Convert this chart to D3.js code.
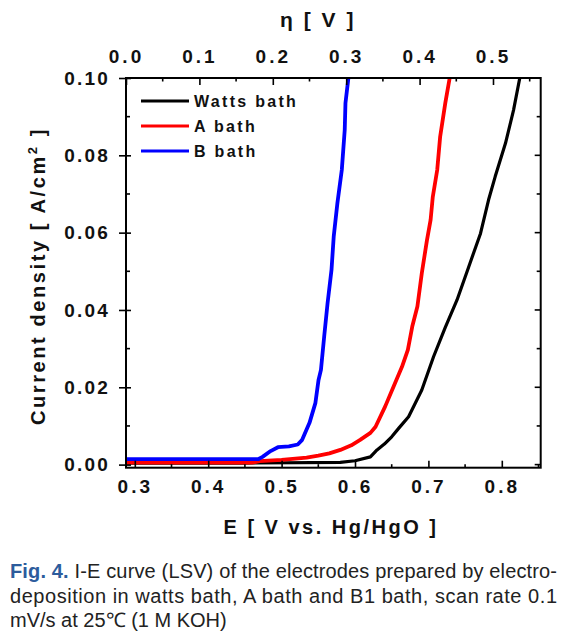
<!DOCTYPE html>
<html><head><meta charset="utf-8">
<script src="https://cdn.jsdelivr.net/npm/d3@7"></script>
<style>
body{margin:0;background:#fff;}
svg{display:block;}
</style></head>
<body>
<svg id="chart" width="568" height="641"></svg>
<script>
// ---- data ----
const seriesNames = ["Watts bath", "A bath", "B bath"];
const seriesColors = ["#000000", "#ff0000", "#0000ff"];

const wattsE = [0.288, 0.45, 0.58, 0.60, 0.621, 0.630, 0.640, 0.650, 0.660, 0.673, 0.691, 0.707, 0.723, 0.739, 0.755, 0.771, 0.782, 0.791, 0.805, 0.816, 0.8245, 0.83];
const wattsJ = [0.0004, 0.0004, 0.0006, 0.0010, 0.0020, 0.0038, 0.0053, 0.0072, 0.0095, 0.0124, 0.0193, 0.0279, 0.0355, 0.0426, 0.0512, 0.0598, 0.0685, 0.0745, 0.0831, 0.0917, 0.1000, 0.1050];

const aE = [0.288, 0.46, 0.47, 0.50, 0.534, 0.55, 0.565, 0.580, 0.595, 0.607, 0.621, 0.628, 0.641, 0.6526, 0.664, 0.672, 0.678, 0.685, 0.691, 0.698, 0.703, 0.706, 0.712, 0.716, 0.723, 0.729, 0.732];
const aJ = [0.0005, 0.0005, 0.0009, 0.0012, 0.0018, 0.0023, 0.0029, 0.0038, 0.0050, 0.0064, 0.0082, 0.0098, 0.0150, 0.0202, 0.0253, 0.0297, 0.0357, 0.0409, 0.0495, 0.0580, 0.0633, 0.0693, 0.0762, 0.0848, 0.0935, 0.1000, 0.1040];

const bE = [0.288, 0.468, 0.474, 0.485, 0.495, 0.510, 0.522, 0.528, 0.538, 0.546, 0.5503, 0.5536, 0.558, 0.5626, 0.568, 0.571, 0.576, 0.582, 0.586, 0.587, 0.591, 0.593];
const bJ = [0.0014, 0.0014, 0.0020, 0.0035, 0.0045, 0.0047, 0.0052, 0.0064, 0.0108, 0.0159, 0.0219, 0.0245, 0.0331, 0.0417, 0.0504, 0.0590, 0.0676, 0.0762, 0.0866, 0.0935, 0.1000, 0.1040];

const xMajor = [0.3, 0.4, 0.5, 0.6, 0.7, 0.8];
const xMinor = [0.35, 0.45, 0.55, 0.65, 0.75, 0.85];
const etaMajor = [0.0, 0.1, 0.2, 0.3, 0.4, 0.5];
const etaMinor = [0.05, 0.15, 0.25, 0.35, 0.45, 0.55];
const yMajor = [0.00, 0.02, 0.04, 0.06, 0.08, 0.10];
const yMinor = [0.01, 0.03, 0.05, 0.07, 0.09];

const captionLines = [
  ["Fig. 4.", " I-E curve (LSV) of the electrodes prepared by electro-"],
  ["", "deposition in watts bath, A bath and B1 bath, scan rate 0.1"],
  ["", "mV/s at 25\u2103 (1 M KOH)"]
];

// ---- layout ----
const L = 126, R = 540.7, T = 78, B = 467.7;
const FONT = "Arial, 'Liberation Sans', sans-serif";
const svg = d3.select("#chart");

const x = d3.scaleLinear().domain([0.288, 0.853]).range([L, R]);
const xTop = d3.scaleLinear().domain([0, 0.565]).range([L, R]);
const y = d3.scaleLinear().domain([-0.0008, 0.1]).range([B, T]);

svg.append("defs").append("clipPath").attr("id", "clip")
  .append("rect").attr("x", L).attr("y", T).attr("width", R - L).attr("height", B - T);

// lines
const line = d3.line().x(d => x(d[0])).y(d => y(d[1]));
const series = [
  d3.zip(wattsE, wattsJ),
  d3.zip(aE, aJ),
  d3.zip(bE, bJ)
];
const widths = [3.2, 3.8, 3.8];
const gLines = svg.append("g").attr("clip-path", "url(#clip)");
series.forEach((s, i) => {
  gLines.append("path").datum(s).attr("d", line)
    .attr("fill", "none").attr("stroke", seriesColors[i])
    .attr("stroke-width", widths[i]).attr("stroke-linejoin", "round");
});

// axes
function styleAxis(g, fs, ls) {
  g.select(".domain").remove();
  g.selectAll("line").attr("stroke", "#000").attr("stroke-width", 1.6);
  g.selectAll("text").attr("font-family", FONT).attr("font-size", fs)
    .attr("font-weight", "bold").attr("fill", "#111").style("letter-spacing", ls + "px");
}
const gB = svg.append("g").attr("transform", `translate(0,${B})`)
  .call(d3.axisBottom(x).tickValues(xMajor).tickFormat(d3.format(".1f")).tickSizeInner(-7).tickSizeOuter(0).tickPadding(12));
styleAxis(gB, 19, 3);
const gT = svg.append("g").attr("transform", `translate(0,${T})`)
  .call(d3.axisTop(xTop).tickValues(etaMajor).tickFormat(d3.format(".1f")).tickSizeInner(-7).tickSizeOuter(0).tickPadding(15));
styleAxis(gT, 19, 3);
const gL = svg.append("g").attr("transform", `translate(${L},0)`)
  .call(d3.axisLeft(y).tickValues(yMajor).tickFormat(d3.format(".2f")).tickSizeInner(7).tickSizeOuter(0).tickPadding(11));
styleAxis(gL, 19, 2.2);
gL.selectAll(".tick text").attr("dx", "2px");
// left major ticks also cross inward
gL.selectAll(".tick").append("line").attr("x1", 0).attr("x2", 5).attr("stroke", "#000").attr("stroke-width", 1.6);

// minor / extra ticks
const tk = svg.append("g").attr("stroke", "#000").attr("stroke-width", 1.6);
tk.selectAll(null).data(xMinor.filter(v => x(v) < R)).enter().append("line")
  .attr("x1", d => x(d)).attr("x2", d => x(d)).attr("y1", B).attr("y2", B - 3.5);
tk.selectAll(null).data(etaMinor.filter(v => xTop(v) < R)).enter().append("line")
  .attr("x1", d => xTop(d)).attr("x2", d => xTop(d)).attr("y1", T).attr("y2", T + 3.5);
tk.selectAll(null).data(yMinor).enter().append("line")
  .attr("x1", L).attr("x2", L + 4).attr("y1", d => y(d)).attr("y2", d => y(d));
tk.selectAll(null).data(yMajor).enter().append("line")
  .attr("x1", R).attr("x2", R - 6).attr("y1", d => y(d)).attr("y2", d => y(d));
tk.selectAll(null).data(yMinor).enter().append("line")
  .attr("x1", R).attr("x2", R - 4).attr("y1", d => y(d)).attr("y2", d => y(d));

// frame
svg.append("rect").attr("x", L).attr("y", T).attr("width", R - L).attr("height", B - T)
  .attr("fill", "none").attr("stroke", "#000").attr("stroke-width", 2);

// legend
const legY = [101, 126, 151];
const leg = svg.append("g");
seriesNames.forEach((n, i) => {
  leg.append("line").attr("x1", 141).attr("x2", 189).attr("y1", legY[i]).attr("y2", legY[i])
    .attr("stroke", seriesColors[i]).attr("stroke-width", 3);
  leg.append("text").attr("x", 194).attr("y", legY[i] + 5.5).text(n)
    .attr("font-family", FONT).attr("font-size", 16).attr("font-weight", "bold")
    .attr("fill", "#111").style("letter-spacing", "2.3px");
});

// axis titles
svg.append("text").attr("x", 318).attr("y", 27).attr("text-anchor", "middle")
  .attr("font-family", FONT).attr("font-size", 21).attr("font-weight", "bold").attr("fill", "#111")
  .style("letter-spacing", "2.5px").text("\u03b7 [ V ]");
svg.append("text").attr("x", 331).attr("y", 534).attr("text-anchor", "middle")
  .attr("font-family", FONT).attr("font-size", 20).attr("font-weight", "bold").attr("fill", "#111")
  .style("letter-spacing", "2.5px").text("E [ V vs. Hg/HgO ]");
const yt = svg.append("text").attr("transform", "translate(45,276) rotate(-90)").attr("text-anchor", "middle")
  .attr("font-family", FONT).attr("font-size", 20).attr("font-weight", "bold").attr("fill", "#111")
  .style("letter-spacing", "2.6px");
yt.append("tspan").text("Current density [ A/cm");
yt.append("tspan").attr("dy", -8).attr("font-size", 13).text("2");
yt.append("tspan").attr("dy", 8).text(" ]");

// caption
const capY = [578, 603, 627];
const capLen = [547, 547, null];
captionLines.forEach((ln, i) => {
  const t = svg.append("text").attr("x", 10).attr("y", capY[i])
    .attr("font-family", FONT).attr("font-size", 20).attr("fill", "#222");
  if (capLen[i]) t.attr("textLength", capLen[i]).attr("lengthAdjust", "spacing");
  if (ln[0]) t.append("tspan").attr("font-weight", "bold").attr("fill", "#2c5c9c").text(ln[0]);
  t.append("tspan").text(ln[1]);
});
</script>
</body></html>
